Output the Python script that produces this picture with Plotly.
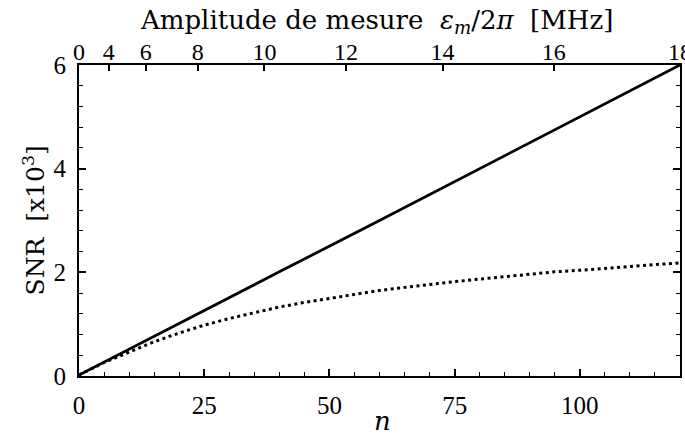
import plotly.graph_objects as go

# Data
n_solid = [0, 20, 40, 60, 80, 100, 120]
snr_solid = [0.02, 1.02, 2.01, 3.0, 4.0, 5.0, 6.0]

n_dotted = [0, 5, 10, 15, 20, 25, 30, 35, 40, 45, 50, 55, 60, 65, 70, 75,
            80, 85, 90, 95, 100, 105, 110, 115, 120]
snr_dotted = [0.02, 0.26, 0.46, 0.66, 0.83, 0.98, 1.11, 1.22, 1.33, 1.42, 1.50,
              1.58, 1.65, 1.71, 1.77, 1.82, 1.87, 1.92, 1.97, 2.01, 2.04, 2.08,
              2.11, 2.15, 2.18]

bottom_ticks = [0, 25, 50, 75, 100]
left_ticks = [0, 2, 4, 6]
top_tick_labels = [0, 4, 6, 8, 10, 12, 14, 16, 18]  # MHz, amplitude ~ sqrt(n)

n_max = 120
eps_max = 18
top_tick_pos = [n_max * (e / eps_max) ** 2 for e in top_tick_labels]

TICKFONT = "Liberation Serif"
TITLEFONT = "DejaVu Serif"
NB = "&nbsp;"

fig = go.Figure()
fig.add_trace(go.Scatter(x=n_solid, y=snr_solid, mode="lines",
                         line=dict(color="black", width=2.8), showlegend=False))
fig.add_trace(go.Scatter(x=n_dotted, y=snr_dotted, mode="lines",
                         line=dict(color="black", width=3, dash="3px,3.5px"),
                         showlegend=False))
# invisible trace to activate top axis
fig.add_trace(go.Scatter(x=[0, 120], y=[0, 0], xaxis="x2", mode="lines",
                         line=dict(width=0), hoverinfo="skip", showlegend=False))

fig.update_layout(
    width=685, height=435,
    margin=dict(l=79, r=5, t=65, b=59),
    paper_bgcolor="white", plot_bgcolor="white",
    font=dict(family=TICKFONT, color="black", size=24),
    xaxis=dict(range=[0, 120], tickvals=bottom_ticks, ticks="inside", ticklen=7,
               tickwidth=1.5, tickcolor="black", showline=True, linecolor="black",
               linewidth=2, showgrid=False, zeroline=False, automargin=False,
               minor=dict(dtick=5, ticks="inside", ticklen=4, tickcolor="black",
                          tickwidth=1.2),
               tickfont=dict(family=TICKFONT, size=25), ticklabelstandoff=6),
    xaxis2=dict(range=[0, 120], overlaying="x", side="top", tickvals=top_tick_pos,
                ticktext=[str(t) for t in top_tick_labels], ticks="inside",
                ticklen=6, tickwidth=1.5, tickcolor="black", showline=True,
                linecolor="black", linewidth=2, showgrid=False, zeroline=False,
                automargin=False,
                tickfont=dict(family=TICKFONT, size=24), ticklabeloverflow="allow",
                ticklabelstandoff=-7),
    yaxis=dict(range=[0, 6], tickvals=left_ticks, ticks="inside", ticklen=7,
               tickwidth=1.5, tickcolor="black", showline=True, linecolor="black",
               linewidth=2, mirror="ticks", showgrid=False, zeroline=False,
               automargin=False,
               minor=dict(dtick=0.4, ticks="inside", ticklen=4, tickcolor="black",
                          tickwidth=1.2),
               tickfont=dict(family=TICKFONT, size=25), ticklabelstandoff=6),
    annotations=[
        dict(text="<i>n</i>", xref="paper", yref="paper", x=0.505, y=0,
             xanchor="center", yanchor="middle", yshift=-45, showarrow=False,
             font=dict(family=TITLEFONT, size=26)),
        dict(text="SNR" + NB * 2 + "[x10<sup>3</sup>]", xref="paper", yref="paper",
             x=0, y=0.5, xanchor="center", yanchor="middle", xshift=-45,
             textangle=-90, showarrow=False, font=dict(family=TITLEFONT, size=25)),
        dict(text="Amplitude de mesure" + NB * 2 + "<i>ε<sub>m</sub></i>/2<i>π</i>"
                  + NB * 2 + "[MHz]",
             xref="paper", yref="paper", x=0.495, y=1, xanchor="center",
             yanchor="middle", yshift=44, showarrow=False,
             font=dict(family=TITLEFONT, size=26)),
    ],
)

fig.write_html("out.html")
